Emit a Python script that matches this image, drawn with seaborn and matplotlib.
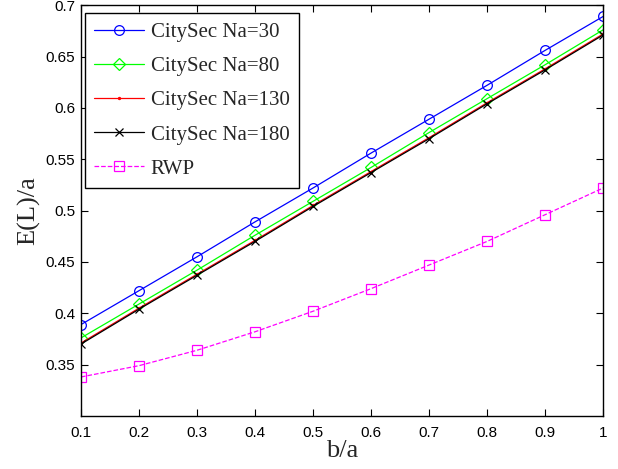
import matplotlib
matplotlib.use("Agg")
import matplotlib.pyplot as plt
import seaborn as sns
import pandas as pd

x = [0.1, 0.2, 0.3, 0.4, 0.5, 0.6, 0.7, 0.8, 0.9, 1.0]
na30 = [0.389, 0.422, 0.455, 0.489, 0.522, 0.556, 0.589, 0.622, 0.656, 0.689]
na80 = [0.376, 0.409, 0.442, 0.476, 0.509, 0.542, 0.576, 0.609, 0.642, 0.676]
na130 = [0.371, 0.405, 0.438, 0.471, 0.505, 0.538, 0.571, 0.605, 0.638, 0.672]
na180 = [0.370, 0.404, 0.437, 0.470, 0.504, 0.537, 0.570, 0.604, 0.637, 0.671]
rwp = [0.338, 0.349, 0.364, 0.382, 0.402, 0.424, 0.447, 0.470, 0.496, 0.522]

labels = ["CitySec Na=30", "CitySec Na=80", "CitySec Na=130", "CitySec Na=180", "RWP"]
series = [na30, na80, na130, na180, rwp]
colors = ["#0000ff", "#00ff00", "#ff0000", "#000000", "#ff00ff"]
markers = ["o", "D", ".", "x", "s"]
msizes = [7, 6, 3, 6, 6.5]
styles = ["-", "-", "-", "-", "--"]

xticks = [0.1, 0.2, 0.3, 0.4, 0.5, 0.6, 0.7, 0.8, 0.9, 1.0]
xticklabels = ["0.1", "0.2", "0.3", "0.4", "0.5", "0.6", "0.7", "0.8", "0.9", "1"]
yticks = [0.35, 0.4, 0.45, 0.5, 0.55, 0.6, 0.65, 0.7]
yticklabels = ["0.35", "0.4", "0.45", "0.5", "0.55", "0.6", "0.65", "0.7"]

sns.set_theme(style="ticks")
plt.rcParams["font.family"] = ["Liberation Sans", "DejaVu Sans"]

fig = plt.figure(figsize=(6.18, 4.69), dpi=100)
ax = fig.add_axes([0.131, 0.113, 0.845, 0.876])

for lab, ys, c, m, ms, ls in zip(labels, series, colors, markers, msizes, styles):
    df = pd.DataFrame({"b/a": x, "E": ys})
    sns.lineplot(data=df, x="b/a", y="E", ax=ax, color=c, linestyle=ls,
                 marker=m, markersize=ms, markerfacecolor="none" if m not in (".", "x") else c,
                 markeredgecolor=c, markeredgewidth=0.9, linewidth=0.9, label=lab,
                 dashes=(6, 6) if ls == "--" else "")

ax.set_xlim(0.1, 1.0)
ax.set_ylim(0.3, 0.7)
ax.set_xticks(xticks)
ax.set_xticklabels(xticklabels)
ax.set_yticks(yticks)
ax.set_yticklabels(yticklabels)
ax.tick_params(direction="in", top=True, right=True, length=5, width=0.8,
               labelsize=11, colors="black")
ax.tick_params(axis="x", pad=7)
ax.tick_params(axis="y", pad=4)
for sp in ax.spines.values():
    sp.set_linewidth(1.0)
    sp.set_color("black")
    sp.set_visible(True)

ax.set_xlabel("b/a", family=["Liberation Serif"], fontsize=19, labelpad=0)
ax.set_ylabel("E(L)/a", family=["Liberation Serif"], fontsize=19, labelpad=4)

leg = ax.legend(loc="upper left", prop={"family": "Liberation Serif", "size": 15},
                frameon=True, fancybox=False, framealpha=1, edgecolor="black",
                handlelength=2.4, handletextpad=0.3, labelspacing=0.7, borderpad=0.45,
                borderaxespad=0, bbox_to_anchor=(4 / 522, 1 - 8 / 411))
leg.get_frame().set_linewidth(1.0)

fig.savefig("out.png", dpi=100)
